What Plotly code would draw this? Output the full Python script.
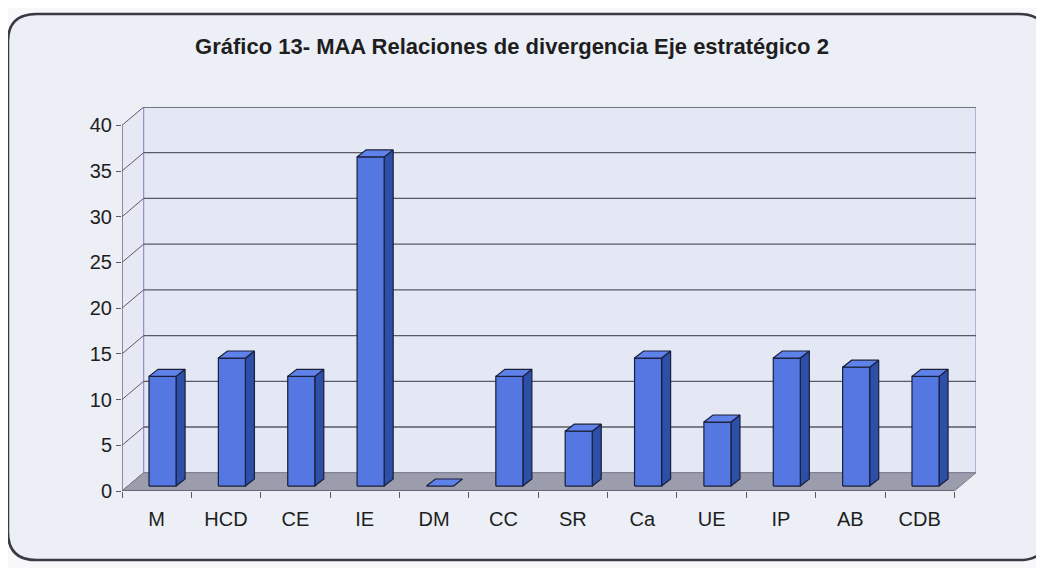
import plotly.graph_objects as go

categories = ["M", "HCD", "CE", "IE", "DM", "CC", "SR", "Ca", "UE", "IP", "AB", "CDB"]
values = [12, 14, 12, 36, 0, 12, 6, 14, 7, 14, 13, 12]
y_ticks = [0, 5, 10, 15, 20, 25, 30, 35, 40]
title_text = "Gráfico 13- MAA Relaciones de divergencia Eje estratégico 2"

# 3D projection parameters (in data units)
DX = 0.312   # full depth shift along x (category units)
DY = 2.0     # full depth shift along y (value units)
F0 = 0.27    # depth fraction of bar front face
BW = 0.39    # bar width (category units)
BDX = 0.13   # bar depth shift x
BDY = 0.77   # bar depth shift y
N = len(categories)
YMAX = 40

FRONT = "#5577e2"
SIDE = "#2d4fa8"
TOP = "#5f82ea"
EDGE = "#1a1f3a"
GRID = "#5a5a66"
FONT = "Liberation Sans Narrow, Arial Narrow, Liberation Sans, Arial"

fig = go.Figure()

def poly(xs, ys, fill, line_color, width=1.0):
    fig.add_trace(go.Scatter(x=xs + [xs[0]], y=ys + [ys[0]], mode="lines", fill="toself",
                             fillcolor=fill, line=dict(color=line_color, width=width),
                             hoverinfo="skip", showlegend=False))

def line(xs, ys, color, width=1.0):
    fig.add_trace(go.Scatter(x=xs, y=ys, mode="lines", line=dict(color=color, width=width),
                             hoverinfo="skip", showlegend=False))

# left side wall
poly([0, DX, DX, 0], [0, DY, YMAX + DY, YMAX], "#e6e9f4", "rgba(0,0,0,0)", 0)
# back wall
poly([DX, N + DX, N + DX, DX], [DY, DY, YMAX + DY, YMAX + DY], "#e4e8f4", "#8f93c4", 1.2)
# gridlines on back wall + diagonals on side wall
for v in y_ticks[1:]:
    line([DX, N + DX], [v + DY, v + DY], GRID, 1.3)
for v in y_ticks:
    line([0, DX], [v, v + DY], GRID, 1.0)
# floor
poly([0, N, N + DX, DX], [0, 0, DY, DY], "#9b9cac", "#7d7e8c", 1.0)
# front axis lines
line([0, N], [0, 0], GRID, 1.3)
line([0, 0], [0, YMAX], GRID, 1.3)

# bars
for i, v in enumerate(values):
    c = i + 0.5 + F0 * DX
    b = F0 * DY
    t = v + b
    xl, xr = c - BW / 2, c + BW / 2
    if v > 0:
        poly([xr, xr + BDX, xr + BDX, xr], [b, b + BDY, t + BDY, t], SIDE, EDGE, 1.2)
        poly([xl, xr, xr, xl], [b, b, t, t], FRONT, EDGE, 1.2)
    poly([xl, xr, xr + BDX, xl + BDX], [t, t, t + BDY, t + BDY], TOP, EDGE, 1.2)

# category labels anchor
fig.add_trace(go.Scatter(x=[i + 0.5 for i in range(N)], y=[0] * N, mode="markers",
                         marker=dict(size=1, color="rgba(0,0,0,0)"), hoverinfo="skip",
                         showlegend=False))

# plot area in figure px: left 114, width 854, top 99, height 384
frame = ("M -0.1,1.242 L 1.05,1.242 Q 1.084,1.242 1.084,1.17 "
         "L 1.084,-0.107 Q 1.084,-0.18 1.05,-0.18 L -0.1,-0.18 "
         "Q -0.1335,-0.18 -0.1335,-0.107 L -0.1335,1.17 Q -0.1335,1.242 -0.1,1.242 Z")

fig.update_layout(
    width=1044, height=568,
    margin=dict(l=114, r=76, t=99, b=85),
    paper_bgcolor="#f8f8fa",
    plot_bgcolor="rgba(0,0,0,0)",
    showlegend=False,
    title=dict(text=title_text, x=(512 - 8) / 1044, xanchor="center", y=1 - 38 / 568,
               yanchor="middle",
               font=dict(family=FONT, size=22, color="#1e1e1e", weight="bold")),
    xaxis=dict(range=[0, N + DX], showgrid=False, zeroline=False, showline=False,
               tickmode="array", tickvals=[i + 0.5 for i in range(N)], ticktext=categories,
               ticks="", ticklabelstandoff=14,
               tickfont=dict(family=FONT, size=20, color="#1e1e1e"),
               minor=dict(tickmode="array", tickvals=list(range(N + 1)), ticks="outside",
                          ticklen=6, tickcolor=GRID, tickwidth=1.3, showgrid=False),
               fixedrange=True),
    yaxis=dict(range=[0, YMAX + DY], showgrid=False, zeroline=False, showline=False,
               tickmode="array", tickvals=y_ticks, ticks="outside", ticklen=5,
               tickcolor=GRID, tickwidth=1.3,
               tickfont=dict(family=FONT, size=20, color="#1e1e1e"),
               fixedrange=True),
    shapes=[dict(type="path", xref="paper", yref="paper", layer="below",
                 path=frame, fillcolor="#eceff6", line=dict(color="#3a3a44", width=2.5))],
)

fig.write_html("out.html")
